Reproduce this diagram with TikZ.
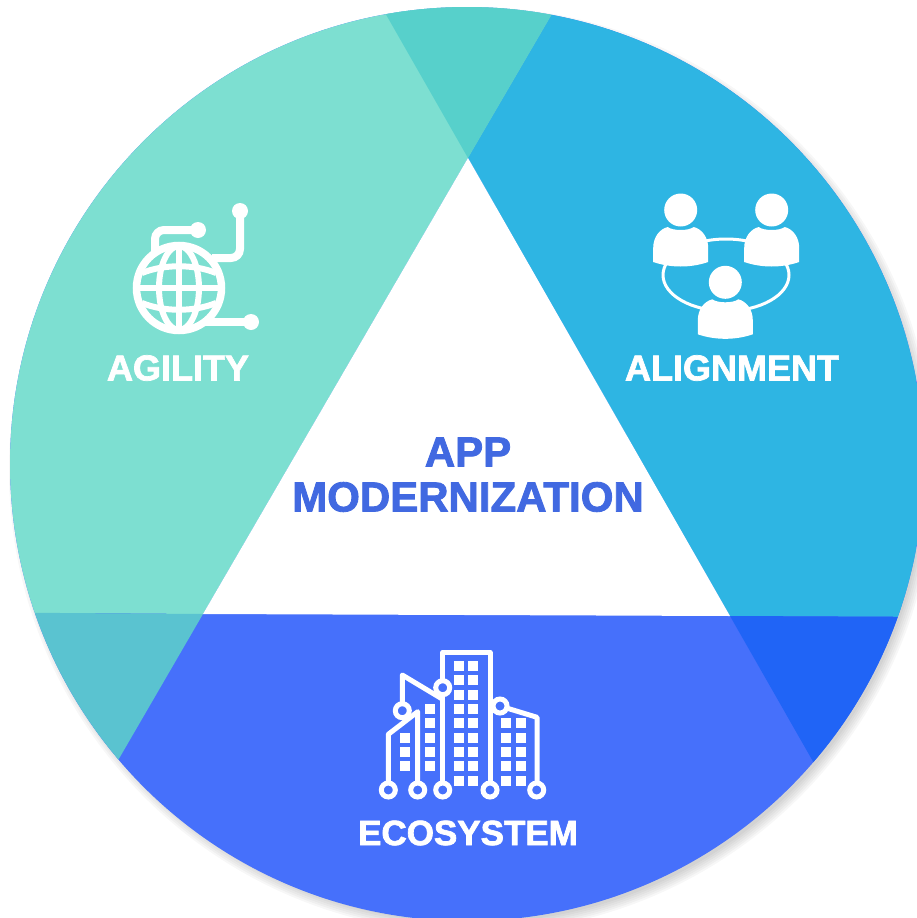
\documentclass[tikz,border=0pt]{standalone}
\usepackage{fontspec}
\setmainfont{Liberation Sans}[BoldFeatures={FakeBold=2}]
\definecolor{agilitygreen}{HTML}{7DDFD1}
\definecolor{topoverlap}{HTML}{57D0CB}
\definecolor{alignblue}{HTML}{2EB5E3}
\definecolor{ecoblue}{HTML}{4670FB}
\definecolor{leftoverlap}{HTML}{5AC3D0}
\definecolor{rightoverlap}{HTML}{2064F6}
\definecolor{titleblue}{HTML}{4169E1}
\newcommand{\personicon}[2]{
	\fill [white] (#1,#2) circle [radius=16.5];
	\fill [white, shift={(#1,#2)}] (-27.5,52) -- (-27.5,38) .. controls (-27.5,27) and (-21,19) .. (-13,17) .. controls (-8,21) and (8,21) .. (13,17) .. controls (21,19) and (27.5,27) .. (27.5,38) -- (27.5,52) .. controls (10,58) and (-10,58) .. cycle;
}
\tikzset{
	caption/.style={white, font=\fontsize{36}{40}\selectfont\bfseries},
	titletext/.style={titleblue, font=\fontsize{42}{46}\selectfont\bfseries},
	trace/.style={white, line width=8, rounded corners=9},
	globeline/.style={white, line width=6},
	cityline/.style={white, line width=5, line join=round},
	citydot/.style={white, fill=ecoblue, line width=5},
	citywin/.style={fill=white, minimum size=10, inner sep=0, draw=none}
}

\begin{document}
\begin{tikzpicture}[x=1pt, y=-1pt]
	\useasboundingbox (0,0) rectangle (917,918);

	\coordinate (apex) at (468,158);
	\coordinate (baseleft) at (203,614);
	\coordinate (baseright) at (730,616);

	%soft shadow
	\foreach \r in {453,455,457,459,461,463}
		\fill [black, opacity=.03] (472,470) circle [radius=\r];

	\fill [ecoblue] (467,464) circle [radius=457];

	\begin{scope}
		\clip (467,464) circle [radius=457];
		\fill [agilitygreen] (566,-10) -- (apex) -- (baseleft) -- (-10,612.5) -- (-10,-10) -- cycle;
		\fill [alignblue] (566,-10) -- (apex) -- (baseright) -- (950,617) -- (950,-10) -- cycle;
		\fill [topoverlap] (372,-10) -- (566,-10) -- (apex) -- cycle;
		\fill [leftoverlap] (-10,612.5) -- (baseleft) -- (95,800) -- (-10,800) -- cycle;
		\fill [rightoverlap] (baseright) -- (950,617) -- (950,800) -- (835,800) -- cycle;
	\end{scope}

	\fill [white] (apex) -- (baseleft) -- (baseright) -- cycle;

	\node [titletext] (app) at (468,452) {APP};
	\node [titletext] (modernization) at (468,497) {MODERNIZATION};
	\node [caption] (agility) at (178,368) {AGILITY};
	\node [caption] (alignment) at (732,368) {ALIGNMENT};
	\node [caption, font=\fontsize{35}{40}\selectfont\bfseries] (ecosystem) at (468,833) {ECOSYSTEM};

	%globe
	\draw [white, line width=7.5] (179,288) circle [radius=42.5];
	\draw [globeline] (179,288) ellipse [x radius=20, y radius=42];
	\draw [globeline] (179,246) -- (179,330);
	\draw [globeline] (137,288) -- (221,288);
	\draw [globeline] (142,273) .. controls (164,264) and (194,264) .. (216,273);
	\draw [globeline] (142,303) .. controls (164,312) and (194,312) .. (216,303);
	\draw [trace] (155,252) -- (155,230) -- (198,230);
	\draw [trace] (212,258) -- (240,258) -- (240,211);
	\draw [white, line width=8] (205,322) -- (251,322);
	\fill [white] (198,230) circle [radius=8];
	\fill [white] (240,211) circle [radius=8];
	\fill [white] (251,322) circle [radius=8];

	%people
	\draw [white, line width=3] (726,275) ellipse [x radius=63, y radius=36];
	\personicon{680.7}{210}
	\personicon{771.7}{210}
	\personicon{725.3}{282.3}

	%city
	\foreach \y in {666,680.3,694.7,709,723.3,737.7,752,766.3,780.7} {
		\node [citywin] at (458.7,\y) {};
		\node [citywin] at (473,\y) {};
	}
	\foreach \y in {709,723.3,737.7,752,766.3}
		\node [citywin] at (430.3,\y) {};
	\foreach \y in {737.7,752,766.3}
		\node [citywin] at (405,\y) {};
	\foreach \y in {723.3,737.7,752,766.3,780.7} {
		\node [citywin] at (506.3,\y) {};
		\node [citywin] at (520.7,\y) {};
	}
	\draw [cityline] (442.7,790) -- (442.7,652.3) -- (490,652.3) -- (490,790);
	\draw [cityline] (402.3,710.7) -- (402.3,675) -- (442.7,699.3);
	\draw [cityline] (388.3,790) -- (388.3,734.3) -- (417.7,711.7) -- (417.7,790);
	\draw [cityline] (500,706) -- (537,717.3) -- (537,790);
	\foreach \x in {388.3,417.7,442.7,490,536.7}
		\draw [citydot] (\x,790) circle [radius=7];
	\draw [citydot] (442.7,687.7) circle [radius=7];
	\draw [citydot] (402.3,710.7) circle [radius=7];
	\draw [citydot] (500,706) circle [radius=7];
\end{tikzpicture}
\end{document}
